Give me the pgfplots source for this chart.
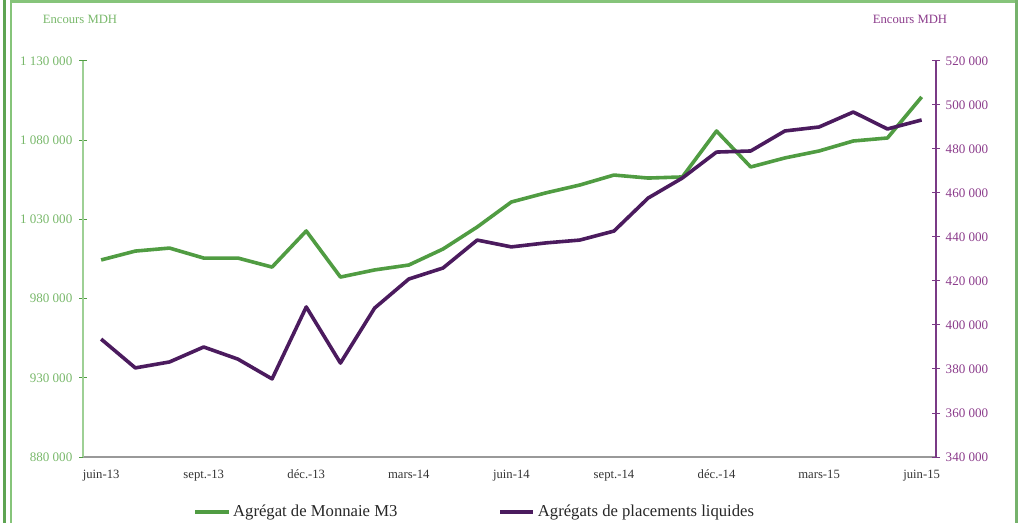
\documentclass[border=0pt]{standalone}
\usepackage{fontspec}
\setmainfont{Liberation Serif}
\usepackage{pgfplots}
\pgfplotsset{compat=1.18}
\usepackage{pgfplotstable}

\definecolor{mgreen}{HTML}{509C42}
\definecolor{mpurple}{HTML}{4B1B5E}
\definecolor{axgreen}{HTML}{9ED095}
\definecolor{lblgreen}{HTML}{78B86A}
\definecolor{lblpurple}{HTML}{8B3B8B}
\definecolor{axpurple}{HTML}{7A3A86}
\definecolor{framegreen}{HTML}{5EA452}
\definecolor{framelight}{HTML}{86C47A}

\newlength\px
\setlength\px{0.75pt}

% i = month index, 0 = juin-13 ... 24 = juin-15
\pgfplotstableread{
i m3 apl
0 1004400 393600
1 1010000 380500
2 1011900 383200
3 1005600 390000
4 1005600 384500
5 999900 375500
6 1022700 408200
7 993600 382700
8 998100 407700
9 1001200 420900
10 1011300 425900
11 1025200 438600
12 1041000 435500
13 1046700 437300
14 1051700 438600
15 1058000 442700
16 1056100 457700
17 1056800 466800
18 1085800 478600
19 1063100 479100
20 1068800 488200
21 1073200 490000
22 1079500 496800
23 1081400 489100
24 1107300 493200
}\datatable

\begin{document}
\begin{tikzpicture}
\path[use as bounding box] (0,0) rectangle (1020\px,-523\px);

% frame
\draw[framegreen, line width=3\px] (4\px,0) -- (4\px,-523\px);
\draw[framelight, line width=1.5\px] (11\px,-3\px) -- (11\px,-523\px);
\draw[framelight, line width=3.5\px] (10\px,-1.5\px) -- (1018\px,-1.5\px);
\draw[framegreen!85!white, line width=3\px] (1016.5\px,0) -- (1016.5\px,-523\px);

\node[lblgreen, font=\fontsize{9.5}{11}\selectfont] at (80\px,-19\px) {Encours MDH};
\node[lblpurple, font=\fontsize{9.5}{11}\selectfont] at (910\px,-19\px) {Encours MDH};

\begin{axis}[
  at={(83\px,-457\px)}, anchor=south west,
  scale only axis, width=853\px, height=396\px,
  xmin=-0.53, xmax=24.42,
  ymin=880000, ymax=1130000,
  axis x line*=bottom, axis y line*=left,
  x axis line style={draw=black!40, line width=1.2\px},
  y axis line style={draw=axgreen, line width=1.5\px},
  xtick={0,3,...,24},
  xticklabels={juin-13,sept.-13,déc.-13,mars-14,juin-14,sept.-14,déc.-14,mars-15,juin-15},
  x tick label style={font=\fontsize{9.5}{11}\selectfont, text=black!80},
  x tick style={draw=none},
  xticklabel shift=4\px,
  extra x ticks={-0.5,2.5,5.5,8.5,11.5,14.5,17.5,20.5,23.5},
  extra x tick labels={},
  extra x tick style={tick align=center, major tick length=6\px, tick style={draw=black!40, line width=1\px}},
  ytick={880000,930000,980000,1030000,1080000,1130000},
  yticklabels={880 000,930 000,980 000,1 030 000,1 080 000,1 130 000},
  y tick label style={font=\fontsize{9.8}{11}\selectfont, text=lblgreen},
  y tick style={draw=mgreen, line width=1\px},
  tick align=center, major tick length=8\px,
  yticklabel shift=2\px,
  scaled y ticks=false,
  clip=false,
  legend columns=2,
  legend style={at={(0.4596,-0.139)}, anchor=center, draw=none, fill=none,
    font=\fontsize{12.5}{14}\selectfont, text=black!85,
    /tikz/every even column/.append style={column sep=98\px}},
  legend image code/.code={\draw[#1, line width=3.8\px] (0pt,0pt) -- (25pt,0pt);},
]
\addplot[mgreen, line width=3.6\px, line join=round] table[x=i, y=m3] {\datatable};
\addlegendentry{Agrégat de Monnaie M3}
\addlegendimage{mpurple, line width=3.6\px}
\addlegendentry{Agrégats de placements liquides}
\end{axis}

\begin{axis}[
  at={(83\px,-457\px)}, anchor=south west,
  scale only axis, width=853\px, height=396\px,
  xmin=-0.53, xmax=24.42,
  ymin=340000, ymax=520000,
  axis x line=none, axis y line*=right,
  y axis line style={draw=axpurple, line width=1.5\px},
  ytick={340000,360000,...,520000},
  yticklabels={340 000,360 000,380 000,400 000,420 000,440 000,460 000,480 000,500 000,520 000},
  y tick label style={font=\fontsize{9.8}{11}\selectfont, text=lblpurple},
  y tick style={draw=axpurple, line width=1\px},
  tick align=center, major tick length=8\px,
  yticklabel shift=1\px,
  scaled y ticks=false,
  clip=false,
]
\addplot[mpurple, line width=3.6\px, line join=round] table[x=i, y=apl] {\datatable};
\end{axis}
\end{tikzpicture}
\end{document}
